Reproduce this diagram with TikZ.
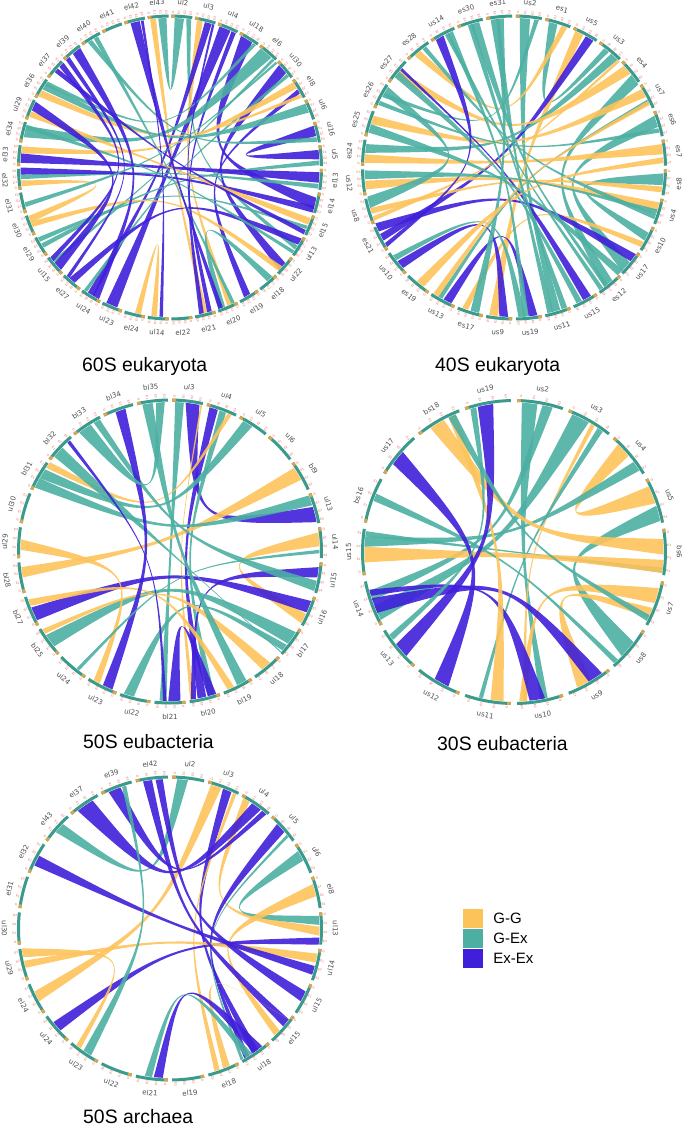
\documentclass[tikz,border=0pt]{standalone}
\usepackage{fontspec}
\setmainfont{Liberation Sans}
\newfontfamily\lblfont{DejaVu Sans}
\usetikzlibrary{positioning}
\definecolor{gg}{HTML}{FDC35B}
\definecolor{gex}{HTML}{4DAFA2}
\definecolor{exex}{HTML}{3F1FD9}
\definecolor{ringteal}{HTML}{3A9A8C}
\definecolor{tickred}{HTML}{E8604C}

\def\rr{149.5}
\def\stp{9}

% one ribbon: colour, start and width of each end (in segment units)
\newcommand{\rib}[5]{%
  \pgfmathsetmacro\aA{90-(#2)*\stp}%
  \pgfmathsetmacro\aB{90-(#2+#3)*\stp}%
  \pgfmathsetmacro\bA{90-(#4)*\stp}%
  \pgfmathsetmacro\bB{90-(#4+#5)*\stp}%
  \pgfmathsetmacro\dd{abs((#2+#3/2)-(#4+#5/2))*\stp}%
  \pgfmathsetmacro\mm{90-((#2+#3/2)+(#4+#5/2))/2*\stp+(\dd>180)*180}%
  \pgfmathsetmacro\dd{\dd>180 ? 360-\dd : \dd}%
  \pgfmathsetmacro\cr{56*(1-\dd/180)}%
  \fill[#1, fill opacity=.9] (\aA:\rr) arc[start angle=\aA, end angle=\aB, radius=\rr]
    .. controls (\mm:\cr) .. (\bA:\rr) arc[start angle=\bA, end angle=\bB, radius=\rr]
    .. controls (\mm:\cr) .. cycle;
}

% the ring of segments with their labels
\newcommand{\ring}[1]{%
  \foreach \lab [count=\k from 0] in {#1} {
    \pgfmathsetmacro\sA{90-(\k+0.06)*\stp}
    \pgfmathsetmacro\sB{90-(\k+0.94)*\stp}
    \pgfmathsetmacro\sG{\sA-1.4}
    \pgfmathsetmacro\sM{90-(\k+0.5)*\stp}
    \draw[ringteal, line width=3pt] (\sA:151.5) arc[start angle=\sA, end angle=\sB, radius=151.5];
    \draw[gg!85!black, line width=3pt] (\sA:151.5) arc[start angle=\sA, end angle=\sG, radius=151.5];
    \foreach \t [count=\j from 0] in {G,E1,E2,E3} {
      \pgfmathsetmacro\sT{90-(\k+0.13+\j*0.24)*\stp}
      \pgfmathsetmacro\rT{cos(\sT)>=0 ? \sT : \sT+180}
      \node[exlab, rotate=\rT] at (\sT:155.5) {\t};
    }
    \pgfmathsetmacro\rot{sin(\sM)>=0 ? \sM-90 : \sM+90}
    \node[seglab, rotate=\rot] at (\sM:165.5) {\lab};
  }
}

\begin{document}
\begin{tikzpicture}[x=1pt, y=1pt,
  seglab/.style={font=\lblfont\fontsize{7}{8}\selectfont, text=black!70, inner sep=0},
  exlab/.style={font=\fontsize{3.1}{3.1}\selectfont, text=tickred, inner sep=0},
  paneltitle/.style={font=\fontsize{19.4}{22}\selectfont, anchor=base west, inner sep=0},
  legsq/.style={minimum width=20pt, minimum height=19.5pt, inner sep=0, draw=none},
  legtxt/.style={font=\fontsize{15}{17}\selectfont, inner sep=0, anchor=west}
]
\useasboundingbox (0,0) rectangle (685,-1125);

% 60S eukaryota
\begin{scope}[shift={(170,-167.5)}]
  \def\stp{9}
  \rib{gex}{0.2}{0.4}{39.5}{0.35}
  \rib{gg}{39.15}{0.25}{18.4}{0.2}
  \rib{gex}{0.7}{0.2}{13.5}{0.2}
  \rib{gg}{1.15}{0.25}{17.3}{0.2}
  \rib{exex}{1.5}{0.3}{23.4}{0.3}
  \rib{exex}{2.15}{0.5}{22.3}{0.5}
  \rib{exex}{2.7}{0.2}{18.55}{0.2}
  \rib{exex}{3.15}{0.55}{11.3}{0.5}
  \rib{gex}{3.75}{0.15}{33.7}{0.2}
  \rib{gex}{4.15}{0.6}{31.3}{0.5}
  \rib{gex}{4.8}{0.12}{25.6}{0.15}
  \rib{exex}{5.2}{0.45}{14.4}{0.4}
  \rib{gex}{5.7}{0.15}{23.75}{0.15}
  \rib{gg}{6.15}{0.3}{30.6}{0.3}
  \rib{exex}{6.5}{0.2}{16.4}{0.3}
  \rib{gg}{6.75}{0.15}{33.15}{0.3}
  \rib{gex}{7.2}{0.4}{33.5}{0.3}
  \rib{exex}{8.2}{0.45}{9.25}{0.4}
  \rib{gex}{8.7}{0.2}{36.3}{0.2}
  \rib{gex}{9.7}{0.2}{26.4}{0.2}
  \rib{exex}{10.2}{0.45}{30.2}{0.4}
  \rib{gex}{10.7}{0.2}{29.5}{0.2}
  \rib{exex}{11.65}{0.3}{29.7}{0.3}
  \rib{gg}{12.2}{0.3}{32.2}{0.25}
  \rib{gex}{12.55}{0.15}{26.7}{0.2}
  \rib{exex}{12.75}{0.2}{34.4}{0.2}
  \rib{exex}{13.15}{0.3}{24.4}{0.3}
  \rib{gex}{13.75}{0.15}{31.65}{0.2}
  \rib{gg}{14.6}{0.25}{27.4}{0.25}
  \rib{gex}{15.2}{0.3}{17.6}{0.3}
  \rib{gex}{17.15}{0.15}{36.6}{0.2}
  \rib{exex}{17.7}{0.2}{38.3}{0.4}
  \rib{exex}{18.2}{0.2}{1.82}{0.1}
  \rib{gg}{20.55}{0.25}{21.25}{0.25}
  \rib{exex}{20.3}{0.15}{38.75}{0.12}
  \rib{exex}{23.15}{0.3}{35.5}{0.4}
  \rib{exex}{24.7}{0.15}{35.1}{0.2}
  \rib{exex}{25.2}{0.4}{32.5}{0.4}
  \rib{exex}{25.7}{0.2}{34.7}{0.25}
  \rib{gg}{27.6}{0.3}{29.2}{0.25}
  \rib{gex}{28.3}{0.2}{5.0}{0.1}
  \ring{ul2,ul3,ul4,ul18,el6,ul30,el8,ul6,ul16,ul5,el13,el14,el15,ul13,ul22,el18,el19,el20,el21,el22,ul14,el24,ul23,ul24,el27,ul15,el29,el30,el31,el32,el33,el34,ul29,el36,el37,el39,el40,el41,el42,el43}
\end{scope}

% 40S eukaryota
\begin{scope}[shift={(514,-167.5)}]
  \def\stp{11.25}
  \rib{gex}{0.2}{0.35}{14.4}{0.3}
  \rib{gex}{0.7}{0.15}{26.5}{0.15}
  \rib{gex}{1.2}{0.3}{3.3}{0.2}
  \rib{gg}{1.65}{0.2}{28.3}{0.25}
  \rib{gg}{2.15}{0.3}{16.55}{0.3}
  \rib{exex}{2.55}{0.3}{21.4}{0.25}
  \rib{gex}{3.6}{0.3}{24.5}{0.3}
  \rib{gg}{3.9}{0.1}{22.15}{0.15}
  \rib{gg}{4.2}{0.35}{27.3}{0.3}
  \rib{gex}{4.6}{0.4}{12.35}{0.35}
  \rib{gg}{5.2}{0.3}{25.5}{0.3}
  \rib{gex}{5.6}{0.15}{18.55}{0.15}
  \rib{gex}{6.2}{0.4}{11.5}{0.4}
  \rib{gex}{6.65}{0.15}{26.2}{0.15}
  \rib{gg}{7.2}{0.35}{24.15}{0.3}
  \rib{gex}{8.2}{0.4}{10.3}{0.3}
  \rib{gg}{8.65}{0.2}{22.4}{0.2}
  \rib{gg}{9.2}{0.3}{23.25}{0.3}
  \rib{gex}{9.6}{0.2}{28.65}{0.15}
  \rib{gg}{10.65}{0.2}{17.6}{0.2}
  \rib{exex}{11.15}{0.3}{21.75}{0.3}
  \rib{gex}{12.75}{0.15}{29.55}{0.15}
  \rib{exex}{13.25}{0.3}{27.6}{0.1}
  \rib{gex}{13.6}{0.2}{27.3}{0.25}
  \rib{gex}{14.15}{0.2}{30.4}{0.2}
  \rib{exex}{15.2}{0.3}{18.2}{0.3}
  \rib{gex}{15.6}{0.25}{20.6}{0.2}
  \rib{exex}{16.2}{0.3}{20.25}{0.3}
  \rib{gex}{17.2}{0.3}{31.4}{0.25}
  \rib{gg}{18.7}{0.2}{5.65}{0.15}
  \rib{gg}{19.3}{0.3}{7.65}{0.2}
  \rib{exex}{21.15}{0.15}{29.2}{0.3}
  \rib{gex}{22.6}{0.4}{26.6}{0.3}
  \rib{gex}{23.6}{0.3}{9.45}{0.15}
  \rib{gex}{25.2}{0.3}{11.85}{0.25}
  \rib{gex}{29.65}{0.2}{15.5}{0.2}
  \rib{gex}{30.5}{0.3}{12.55}{0.15}
  \rib{gex}{31.2}{0.3}{14.65}{0.2}
  \ring{us2,es1,us5,us3,es4,us7,es6,es7,es8,us4,es10,us17,es12,us15,us11,us19,us9,es17,us13,es19,us10,es21,us8,us12,es24,es25,es26,es27,es28,us14,es30,es31}
\end{scope}

% 50S eubacteria
\begin{scope}[shift={(170,-551.5)}]
  \def\stp{13.333}
  \rib{gex}{0.15}{0.25}{13.6}{0.2}
  \rib{exex}{0.45}{0.4}{5.45}{0.45}
  \rib{gg}{0.88}{0.05}{12.8}{0.12}
  \rib{exex}{1.15}{0.25}{12.45}{0.25}
  \rib{gex}{1.45}{0.2}{12.2}{0.2}
  \rib{gg}{1.7}{0.12}{22.8}{0.2}
  \rib{gex}{2.2}{0.3}{22.45}{0.3}
  \rib{gg}{4.2}{0.4}{19.5}{0.3}
  \rib{gex}{5.1}{0.3}{22.15}{0.3}
  \rib{gg}{6.2}{0.4}{8.6}{0.3}
  \rib{exex}{7.2}{0.3}{12.75}{0.15}
  \rib{gex}{7.6}{0.3}{24.7}{0.2}
  \rib{exex}{8.2}{0.35}{18.2}{0.4}
  \rib{gex}{9.2}{0.4}{17.3}{0.4}
  \rib{gex}{9.65}{0.2}{14.55}{0.3}
  \rib{gex}{9.9}{0.03}{23.2}{0.35}
  \rib{gg}{10.35}{0.3}{17.75}{0.15}
  \rib{gex}{11.2}{0.3}{26.2}{0.3}
  \rib{gg}{11.6}{0.2}{18.65}{0.2}
  \rib{exex}{12.15}{0.25}{13.2}{0.35}
  \rib{exex}{13.6}{0.1}{23.75}{0.1}
  \rib{exex}{15.2}{0.3}{25.4}{0.3}
  \rib{gg}{15.6}{0.2}{20.3}{0.3}
  \rib{gex}{16.3}{0.1}{6.7}{0.1}
  \rib{gex}{24.2}{0.4}{26.6}{0.25}
  \ring{ul3,ul4,ul5,ul6,bl9,ul13,ul14,ul15,ul16,bl17,ul18,bl19,bl20,bl21,ul22,ul23,ul24,bl25,bl27,bl28,ul29,ul30,bl31,bl32,bl33,bl34,bl35}
\end{scope}

% 30S eubacteria
\begin{scope}[shift={(514,-552)}]
  \def\stp{20}
  \rib{gex}{0.15}{0.3}{8.35}{0.15}
  \rib{gex}{0.55}{0.2}{12.55}{0.2}
  \rib{gex}{1.15}{0.35}{12.15}{0.3}
  \rib{gg}{1.55}{0.08}{8.75}{0.08}
  \rib{gex}{1.7}{0.12}{9.6}{0.08}
  \rib{gg}{2.2}{0.3}{3.2}{0.35}
  \rib{gex}{2.65}{0.2}{13.6}{0.2}
  \rib{gex}{3.6}{0.3}{6.35}{0.35}
  \rib{gex}{4.8}{0.1}{13.8}{0.1}
  \rib{gg}{4.25}{0.3}{16.3}{0.3}
  \rib{gg}{4.65}{0.25}{13.3}{0.3}
  \rib{gg}{5.2}{0.3}{8.75}{0.15}
  \rib{gg}{5.6}{0.2}{7.45}{0.3}
  \rib{gex}{6.8}{0.1}{14.5}{0.15}
  \rib{exex}{7.2}{0.3}{12.3}{0.3}
  \rib{exex}{8.4}{0.3}{12.65}{0.12}
  \rib{gg}{9.2}{0.25}{16.7}{0.15}
  \rib{exex}{10.3}{0.3}{15.3}{0.3}
  \rib{exex}{11.3}{0.3}{17.3}{0.3}
  \rib{gex}{11.7}{0.12}{17.15}{0.12}
  \rib{gex}{5.75}{0.12}{16.7}{0.15}
  \ring{us2,us3,us4,us5,bs6,us7,us8,us9,us10,us11,us12,us13,us14,us15,bs16,us17,bs18,us19}
\end{scope}

% 50S archaea
\begin{scope}[shift={(170,-928.5)}]
  \def\stp{13.846}
  \rib{gex}{0.2}{0.3}{22.4}{0.3}
  \rib{gg}{1.15}{0.3}{17.4}{0.3}
  \rib{exex}{1.5}{0.25}{10.4}{0.2}
  \rib{gg}{1.8}{0.1}{11.6}{0.15}
  \rib{gg}{2.12}{0.2}{6.45}{0.25}
  \rib{exex}{2.4}{0.3}{23.25}{0.5}
  \rib{exex}{2.75}{0.15}{24.25}{0.35}
  \rib{exex}{3.3}{0.3}{10.7}{0.15}
  \rib{gex}{3.7}{0.08}{10.88}{0.08}
  \rib{gex}{4.25}{0.3}{6.15}{0.25}
  \rib{gg}{5.25}{0.35}{9.6}{0.2}
  \rib{exex}{6.75}{0.2}{16.4}{0.3}
  \rib{gg}{7.2}{0.25}{18.4}{0.2}
  \rib{exex}{7.55}{0.25}{21.3}{0.3}
  \rib{exex}{8.3}{0.3}{25.6}{0.2}
  \rib{exex}{9.2}{0.25}{25.25}{0.25}
  \rib{gg}{9.2}{0.0}{11.3}{0.2}
  \rib{exex}{10.25}{0.3}{13.2}{0.25}
  \rib{gex}{10.6}{0.2}{13.5}{0.2}
  \rib{gex}{15.3}{0.25}{24.65}{0.12}
  \rib{gg}{15.65}{0.15}{18.7}{0.25}
  \ring{ul2,ul3,ul4,ul5,ul6,el8,ul13,ul14,ul15,el15,ul18,el18,el19,el21,ul22,ul23,ul24,el24,ul29,ul30,el31,el32,el43,el37,el39,el42}
\end{scope}

% titles
\node[paneltitle] (t60s) at (82,-371) {60S eukaryota};
\node[paneltitle] (t40s) at (435,-371) {40S eukaryota};
\node[paneltitle] (t50sb) at (83,-748) {50S eubacteria};
\node[paneltitle] (t30s) at (437,-750) {30S eubacteria};
\node[paneltitle] (t50sa) at (83,-1123) {50S archaea};

% legend
\node[legsq, fill=gg] (leggg) at (473,-918.5) {};
\node[legsq, fill=gex, below=0pt of leggg] (leggex) {};
\node[legsq, fill=exex, below=0pt of leggex] (legexex) {};
\node[legtxt, right=10pt of leggg] (lgg) {G-G};
\node[legtxt, right=10pt of leggex] (lgex) {G-Ex};
\node[legtxt, right=10pt of legexex] (lexex) {Ex-Ex};
\end{tikzpicture}
\end{document}
